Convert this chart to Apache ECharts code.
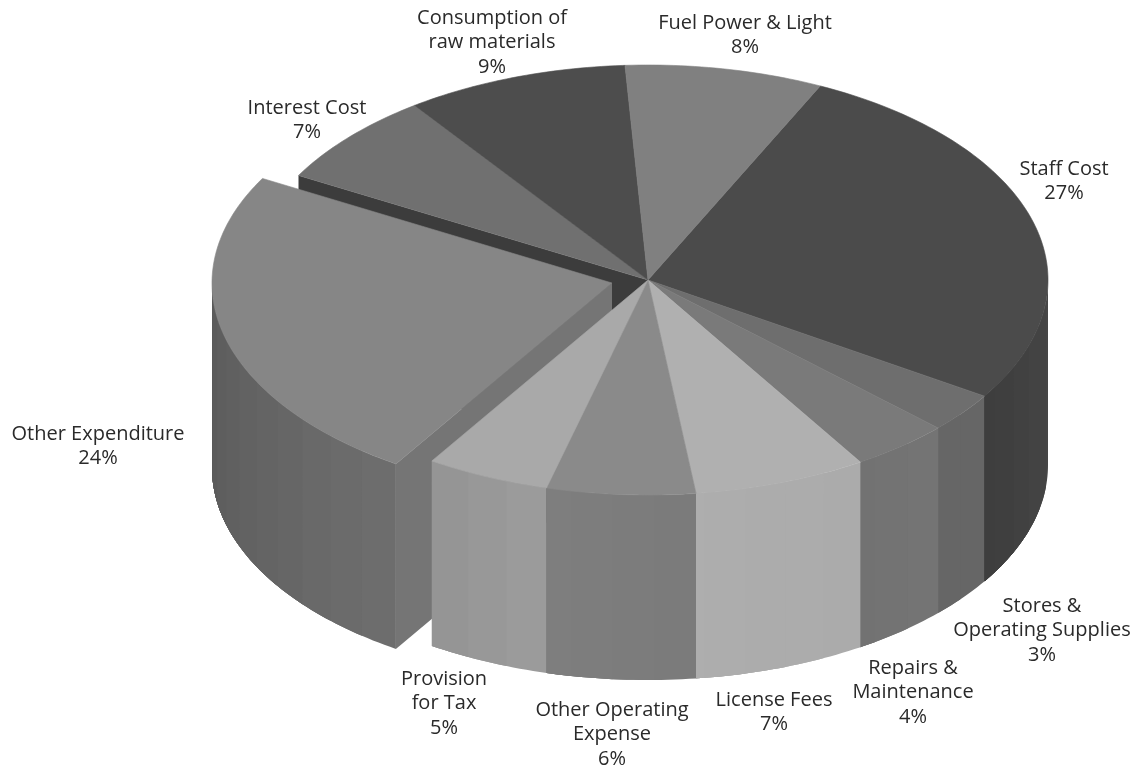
<!DOCTYPE html>
<html>
<head>
<meta charset="utf-8">
<title>Expenditure breakdown</title>
<style>html,body{margin:0;padding:0;background:#fff}#chart{width:1137px;height:772px}</style>
<script src="https://cdn.jsdelivr.net/npm/echarts@6/dist/echarts.min.js"></script>
</head>
<body>
<div id="chart"></div>
<script>
// Expense heads, clockwise from the top of the disc
const categories = ['Staff Cost', 'Stores &\nOperating Supplies', 'Repairs &\nMaintenance', 'License Fees',
  'Other Operating\nExpense', 'Provision\nfor Tax', 'Other Expenditure', 'Interest Cost',
  'Consumption of\nraw materials', 'Fuel Power & Light'];
const shares = [27, 3, 4, 7, 6, 5, 24, 7, 9, 8];

// Grey tones: lid of each slice, then the rim at the slice's start and end
const topTones = [0x4b, 0x6e, 0x7a, 0xb0, 0x8a, 0xa9, 0x86, 0x70, 0x4d, 0x80];
const rimStartTones = [0x46, 0x66, 0x74, 0xab, 0x7b, 0x9b, 0x6d, 0x70, 0x4d, 0x80];
const rimEndTones = [0x3d, 0x66, 0x72, 0xae, 0x7f, 0x92, 0x58, 0x70, 0x4d, 0x80];

// Centre of each label's block of text and the top of its first line
const labelX = [1064, 1042, 913, 774, 612, 444, 98, 307, 492, 745];
const labelY = [157, 594, 656, 688, 698, 667, 422, 96, 6, 11];

// Disc geometry in pixels
const cx = 648, cy = 280, rx = 400, ry = 215, depth = 185;
const startAngle = 25.5;
const pulledSlice = 6, pulledDx = -36, pulledDy = 3;
const innerWallSlice = 7;
const bandDegrees = 6;

const total = shares.reduce((a, b) => a + b, 0);
const bounds = [startAngle];
shares.forEach((s, i) => bounds.push(bounds[i] + s / total * 360));

const grey = t => { const h = Math.round(t); return `rgb(${h},${h},${h})`; };
const rimPoint = (deg, ox, oy, drop) => {
  const a = deg * Math.PI / 180;
  return [ox + rx * Math.sin(a), oy - ry * Math.cos(a) + drop];
};
const solid = (points, tone, z2, lineWidth) => ({
  type: 'polygon', z2, shape: { points }, silent: true,
  style: { fill: grey(tone), stroke: lineWidth ? grey(tone) : null, lineWidth: lineWidth || 0 }
});

function lidPoints(a0, a1, ox, oy) {
  const pts = [[ox, oy]];
  for (let d = a0; d < a1; d += 1) pts.push(rimPoint(d, ox, oy, 0));
  pts.push(rimPoint(a1, ox, oy, 0));
  return pts;
}

// Rim of one slice where it faces the viewer. Each band runs on to the end of
// the slice and the next band paints over it, which keeps the joins seamless.
function rimBands(i, a0, a1, ox, oy, z2) {
  const out = [];
  const from = Math.max(a0, 90), to = Math.min(a1, 270);
  let n = 0;
  for (let d = from; d < to; d += bandDegrees, n++) {
    const t = rimStartTones[i] + (rimEndTones[i] - rimStartTones[i]) * ((d - from) / Math.max(to - from, 1));
    const pts = [];
    for (let k = d; k < to; k += 1) pts.push(rimPoint(k, ox, oy, 0));
    pts.push(rimPoint(to, ox, oy, 0));
    for (let k = pts.length - 1; k >= 0; k--) pts.push([pts[k][0], pts[k][1] + depth]);
    out.push(solid(pts, t, z2 + n));
  }
  return out;
}

// Flat cut face running from the centre out to the rim
function cutWall(deg, ox, oy, tone, z2) {
  const p = rimPoint(deg, ox, oy, 0);
  return solid([[ox, oy], p, [p[0], p[1] + depth], [ox, oy + depth]], tone, z2);
}

function renderSlice(params, api) {
  const i = params.dataIndex;
  const a0 = bounds[i], a1 = bounds[i] + api.value(0) / total * 360;
  const pulled = i === pulledSlice;
  const ox = pulled ? cx + pulledDx : cx, oy = pulled ? cy + pulledDy : cy;
  const children = [];
  if (pulled) {
    children.push(cutWall(a0, ox, oy, 0x75, 20));
    children.push(...rimBands(i, a0, a1, ox, oy, 21));
    children.push(solid(lidPoints(a0, a1, ox, oy), topTones[i], 100, 0.6));
  } else {
    children.push(...rimBands(i, a0, a1, ox, oy, 200));
    children.push(solid(lidPoints(a0, a1, ox, oy), topTones[i], 400, 0.6));
    if (i === innerWallSlice) children.push(cutWall(a0, ox, oy, 0x3c, 10));
  }
  children.push({
    type: 'text', z2: 500, silent: true,
    style: {
      x: labelX[i], y: labelY[i],
      text: categories[i] + '\n' + api.value(0) + '%',
      fill: '#2a2a2a', font: '20px "Open Sans"',
      textAlign: 'center', textVerticalAlign: 'top', lineHeight: 24.5
    }
  });
  return { type: 'group', children };
}

const chart = echarts.init(document.getElementById('chart'));
chart.setOption({
  backgroundColor: '#ffffff',
  animation: false,
  series: [{
    type: 'custom',
    coordinateSystem: 'none',
    renderItem: renderSlice,
    data: shares.map((v, i) => ({ name: categories[i], value: [v] }))
  }]
});
</script>
</body>
</html>
